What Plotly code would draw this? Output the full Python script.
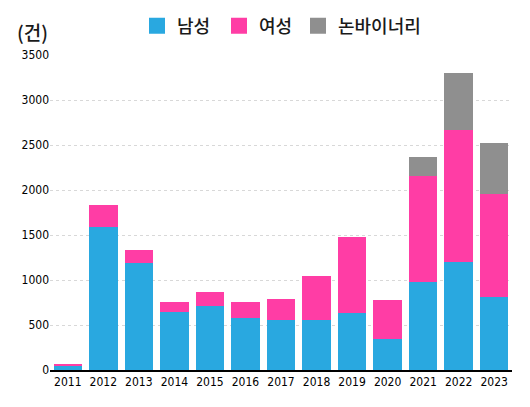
import plotly.graph_objects as go

years = ["2011","2012","2013","2014","2015","2016","2017","2018","2019","2020","2021","2022","2023"]
male = [45, 1585, 1193, 648, 711, 581, 559, 559, 630, 344, 978, 1204, 808]
female = [15, 248, 137, 111, 156, 175, 230, 482, 848, 434, 1181, 1459, 1144]
nonbinary = [0, 0, 0, 0, 0, 0, 0, 0, 0, 0, 211, 640, 574]
names = ["남성", "여성", "논바이너리"]
colors = ["#29A8E0", "#FF3DA5", "#8F8F8F"]
yticks = [0, 500, 1000, 1500, 2000, 2500, 3000, 3500]

fig = go.Figure()
for vals, name, col in zip([male, female, nonbinary], names, colors):
    fig.add_trace(go.Bar(x=years, y=vals, name=name, marker=dict(color=col, line=dict(width=0)),
                         showlegend=False))
legend_ids = ["legend", "legend2", "legend3"]
for name, col, lg in zip(names, colors, legend_ids):
    fig.add_trace(go.Scatter(x=[None], y=[None], mode="markers", name=name, legend=lg,
                             marker=dict(symbol="square", size=22, color=col)))

num_font = "DejaVu Sans Condensed, sans-serif"
leg_font = dict(family="Noto Sans CJK KR", size=18, color="#1a1a1a", weight=500)
leg_y = (370 - 26) / 315
leg_common = dict(orientation="h", xanchor="left", y=leg_y, yanchor="middle",
                  font=leg_font, itemwidth=30, bgcolor="rgba(0,0,0,0)")
fig.update_layout(
    width=530, height=407,
    margin=dict(l=50, r=18, t=55, b=37, autoexpand=False),
    barmode="stack", bargap=0.2,
    plot_bgcolor="white", paper_bgcolor="white",
    font=dict(family=num_font, color="#000000", size=12),
    legend=dict(x=(137 - 50) / 462, **leg_common),
    legend2=dict(x=(219 - 50) / 462, **leg_common),
    legend3=dict(x=(298 - 50) / 462, **leg_common),
    xaxis=dict(showline=True, linecolor="black", linewidth=2, ticks="", showgrid=False, automargin=False,
               tickfont=dict(family=num_font, size=12, color="#000000")),
    yaxis=dict(range=[0, 3500], tickvals=yticks, showgrid=True, gridcolor="#D8D8D8", automargin=False,
               griddash="dot", gridwidth=1, zeroline=False, showline=False, ticks="",
               tickfont=dict(family=num_font, size=12, color="#000000")),
    annotations=[dict(text="(건)", xref="paper", yref="paper", x=(15 - 50) / 462, y=(370 - 31) / 315,
                      xanchor="left", yanchor="middle", showarrow=False,
                      font=dict(family="Noto Sans CJK KR", size=19, color="#1a1a1a", weight=500))],
)
fig.write_html("out.html", config={"displayModeBar": False},
               post_script="document.body.style.margin='0px';")
